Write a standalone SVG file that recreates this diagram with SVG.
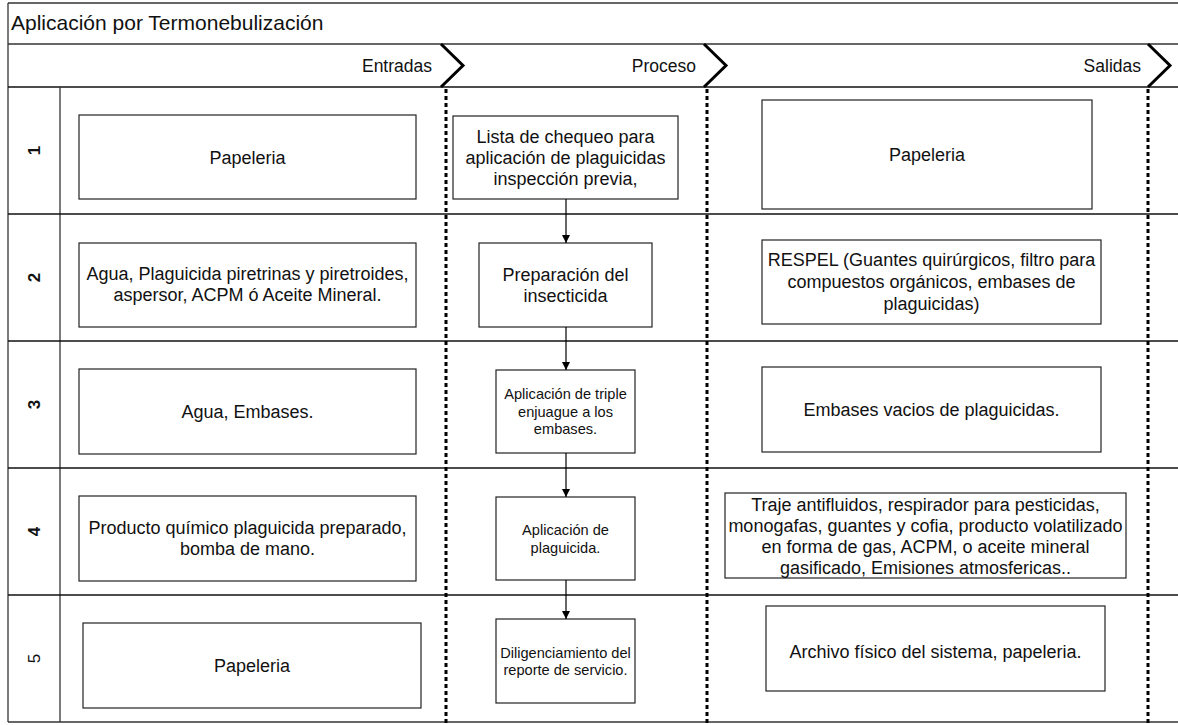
<svg xmlns="http://www.w3.org/2000/svg" width="1178" height="725" viewBox="0 0 1178 725">
  <defs>
    <marker id="arrow" viewBox="0 0 10 10" refX="10" refY="5" markerWidth="8" markerHeight="8" markerUnits="userSpaceOnUse" orient="auto">
      <path d="M0,0 L10,5 L0,10 Z" fill="#000"/>
    </marker>
    <style>
      .frame { fill: none; stroke: #333; stroke-width: 1.3; }
      .rule { stroke: #111; stroke-width: 1.5; fill: none; }
      .phase { stroke: #000; stroke-width: 3; fill: none; stroke-linejoin: miter; }
      .sep { stroke: #000; stroke-width: 3; stroke-dasharray: 4 3; fill: none; }
      .box { fill: #fff; stroke: #222; stroke-width: 1.2; }
      .link { stroke: #000; stroke-width: 1.2; fill: none; marker-end: url(#arrow); }
      text { font-family: "Liberation Sans", Arial, sans-serif; fill: #111; }
      .title { font-size: 21px; }
      .head { font-size: 17.5px; text-anchor: end; }
      .lbl { font-size: 18px; text-anchor: middle; }
      .sm { font-size: 14.6px; text-anchor: middle; }
      .num { font-size: 17px; font-weight: bold; text-anchor: middle; dominant-baseline: central; }
      .num5 { font-size: 17px; text-anchor: middle; dominant-baseline: central; }
    </style>
  </defs>

  <rect width="1178" height="725" fill="#fff"/>

  <!-- pool frame, title and phase header -->
  <g id="frame">
    <line class="frame" x1="8" y1="3" x2="1178" y2="3"/>
    <line class="frame" x1="8" y1="3" x2="8" y2="722"/>
    <line class="frame" x1="8" y1="44" x2="1178" y2="44"/>
    <line class="rule" x1="8" y1="87" x2="1178" y2="87"/>
    <line class="frame" x1="60" y1="87" x2="60" y2="722"/>
    <line class="rule" x1="8" y1="214" x2="1178" y2="214"/>
    <line class="rule" x1="8" y1="341" x2="1178" y2="341"/>
    <line class="rule" x1="8" y1="468" x2="1178" y2="468"/>
    <line class="rule" x1="8" y1="595" x2="1178" y2="595"/>
    <line class="frame" x1="8" y1="722" x2="1178" y2="722"/>
    <text class="title" x="11" y="29.5">Aplicación por Termonebulización</text>
  </g>

  <!-- phase headers with chevrons and dotted separators -->
  <g id="phases">
    <polyline class="phase" points="441,44 463,65.5 441,87"/>
    <polyline class="phase" points="704,44 726,65.5 704,87"/>
    <polyline class="phase" points="1148,44 1170,65.5 1148,87"/>
    <line class="sep" x1="446" y1="89" x2="446" y2="725"/>
    <line class="sep" x1="707" y1="89" x2="707" y2="725"/>
    <line class="sep" x1="1148" y1="89" x2="1148" y2="725"/>
    <text class="head" x="432" y="71.5">Entradas</text>
    <text class="head" x="696" y="71.5">Proceso</text>
    <text class="head" x="1141" y="71.5">Salidas</text>
  </g>

  <!-- lane numbers -->
  <g id="lanes">
    <text class="num" transform="translate(34,150.5) rotate(-90)">1</text>
    <text class="num" transform="translate(34,277.5) rotate(-90)">2</text>
    <text class="num" transform="translate(34,404.5) rotate(-90)">3</text>
    <text class="num" transform="translate(34,531.5) rotate(-90)">4</text>
    <text class="num5" transform="translate(34,658.5) rotate(-90)">5</text>
  </g>

  <!-- inputs -->
  <g id="in1">
    <rect class="box" x="79" y="115" width="337" height="84"/>
    <text class="lbl" x="247.5" y="163.5">Papeleria</text>
  </g>
  <g id="in2">
    <rect class="box" x="79" y="243" width="337" height="84"/>
    <text class="lbl" x="247.5" y="280">Agua, Plaguicida piretrinas y piretroides,</text>
    <text class="lbl" x="247.5" y="301">aspersor, ACPM ó Aceite Mineral.</text>
  </g>
  <g id="in3">
    <rect class="box" x="79" y="369" width="337" height="85"/>
    <text class="lbl" x="247.5" y="418">Agua, Embases.</text>
  </g>
  <g id="in4">
    <rect class="box" x="79" y="496" width="337" height="85"/>
    <text class="lbl" x="247.5" y="534">Producto químico plaguicida preparado,</text>
    <text class="lbl" x="247.5" y="555">bomba de mano.</text>
  </g>
  <g id="in5">
    <rect class="box" x="83" y="623" width="338" height="85"/>
    <text class="lbl" x="252" y="672">Papeleria</text>
  </g>

  <!-- process steps -->
  <g id="p1">
    <rect class="box" x="453" y="116" width="225" height="83"/>
    <text class="lbl" x="565.5" y="142.5">Lista de chequeo para</text>
    <text class="lbl" x="565.5" y="163.5">aplicación de plaguicidas</text>
    <text class="lbl" x="565.5" y="184.5">inspección previa,</text>
  </g>
  <g id="p2">
    <rect class="box" x="479" y="243" width="173" height="84"/>
    <text class="lbl" x="565.5" y="281">Preparación del</text>
    <text class="lbl" x="565.5" y="302">insecticida</text>
  </g>
  <g id="p3">
    <rect class="box" x="496" y="370" width="139" height="83"/>
    <text class="sm" x="565.5" y="399">Aplicación de triple</text>
    <text class="sm" x="565.5" y="416.5">enjuague a los</text>
    <text class="sm" x="565.5" y="434">embases.</text>
  </g>
  <g id="p4">
    <rect class="box" x="496" y="497" width="139" height="83"/>
    <text class="sm" x="565.5" y="535">Aplicación de</text>
    <text class="sm" x="565.5" y="552.5">plaguicida.</text>
  </g>
  <g id="p5">
    <rect class="box" x="496" y="619" width="139" height="84"/>
    <text class="sm" x="565.5" y="657.5">Diligenciamiento del</text>
    <text class="sm" x="565.5" y="675">reporte de servicio.</text>
  </g>

  <!-- outputs -->
  <g id="out1">
    <rect class="box" x="762" y="100" width="330" height="109"/>
    <text class="lbl" x="927" y="161">Papeleria</text>
  </g>
  <g id="out2">
    <rect class="box" x="762" y="240" width="339" height="84"/>
    <text class="lbl" x="931.5" y="265.5">RESPEL (Guantes quirúrgicos, filtro para</text>
    <text class="lbl" x="931.5" y="288">compuestos orgánicos, embases de</text>
    <text class="lbl" x="931.5" y="310">plaguicidas)</text>
  </g>
  <g id="out3">
    <rect class="box" x="762" y="367" width="339" height="85"/>
    <text class="lbl" x="931.5" y="415.5">Embases vacios de plaguicidas.</text>
  </g>
  <g id="out4">
    <rect class="box" x="725" y="493" width="401" height="85"/>
    <text class="lbl" x="925.5" y="510.5">Traje antifluidos, respirador para pesticidas,</text>
    <text class="lbl" x="925.5" y="531.5">monogafas, guantes y cofia, producto volatilizado</text>
    <text class="lbl" x="925.5" y="552.5">en forma de gas, ACPM, o aceite mineral</text>
    <text class="lbl" x="925.5" y="573.5">gasificado, Emisiones atmosfericas..</text>
  </g>
  <g id="out5">
    <rect class="box" x="766" y="606" width="339" height="85"/>
    <text class="lbl" x="935.5" y="658">Archivo físico del sistema, papeleria.</text>
  </g>

  <!-- flow between process steps -->
  <g id="connectors">
    <line class="link" x1="566" y1="199" x2="566" y2="243"/>
    <line class="link" x1="566" y1="327" x2="566" y2="370"/>
    <line class="link" x1="566" y1="453" x2="566" y2="497"/>
    <line class="link" x1="566" y1="580" x2="566" y2="619"/>
  </g>
</svg>
